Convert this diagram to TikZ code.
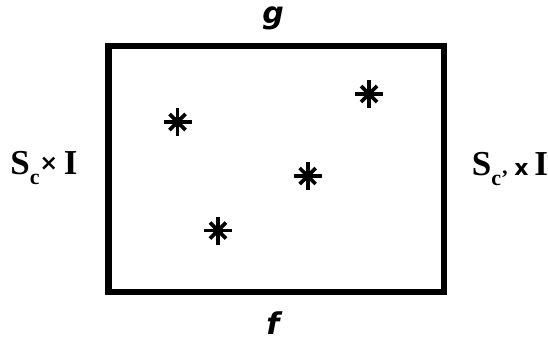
\documentclass[tikz,border=0pt]{standalone}
\usepackage{fontspec}
\setmainfont{Liberation Serif}
\newfontfamily\labsans{DejaVu Sans}
\begin{document}
\begin{tikzpicture}[x=1pt,y=-1pt,
  frame/.style={line width=6.5pt, draw=black},
  sidelabel/.style={inner sep=0pt, font=\fontsize{35}{35}\selectfont\bfseries},
  maplabel/.style={inner sep=0pt, anchor=base, font=\labsans\fontsize{30}{30}\selectfont\bfseries\itshape},
  asterisk/.pic={
    \draw[line width=3.6pt] (-14,0) -- (14,0) (0,-14) -- (0,14);
    \draw[line width=3.6pt] (-8,-8) -- (8,8) (-8,8) -- (8,-8);
    \fill (0,0) circle (5.5);
  }]
\useasboundingbox (0,0) rectangle (548,343);
\draw[frame] (108.5,46) rectangle (444,292);
\pic at (177.5,122) {asterisk};
\pic at (369,94) {asterisk};
\pic at (307.7,176) {asterisk};
\pic at (218,230.5) {asterisk};
\node[maplabel] (g) at (273,23) {g};
\node[maplabel] (f) at (273,334) {f};
\node[sidelabel] (left) at (44,168) {S\raisebox{-0.3em}{\fontsize{22}{22}\selectfont c}{\labsans\fontsize{22}{22}\selectfont\raisebox{0.15em}{×}}\,I};
\node[sidelabel] (right) at (510,169) {S\raisebox{-0.3em}{\fontsize{22}{22}\selectfont c'}\,{\labsans\fontsize{22}{22}\selectfont x}\,I};
\end{tikzpicture}
\end{document}
